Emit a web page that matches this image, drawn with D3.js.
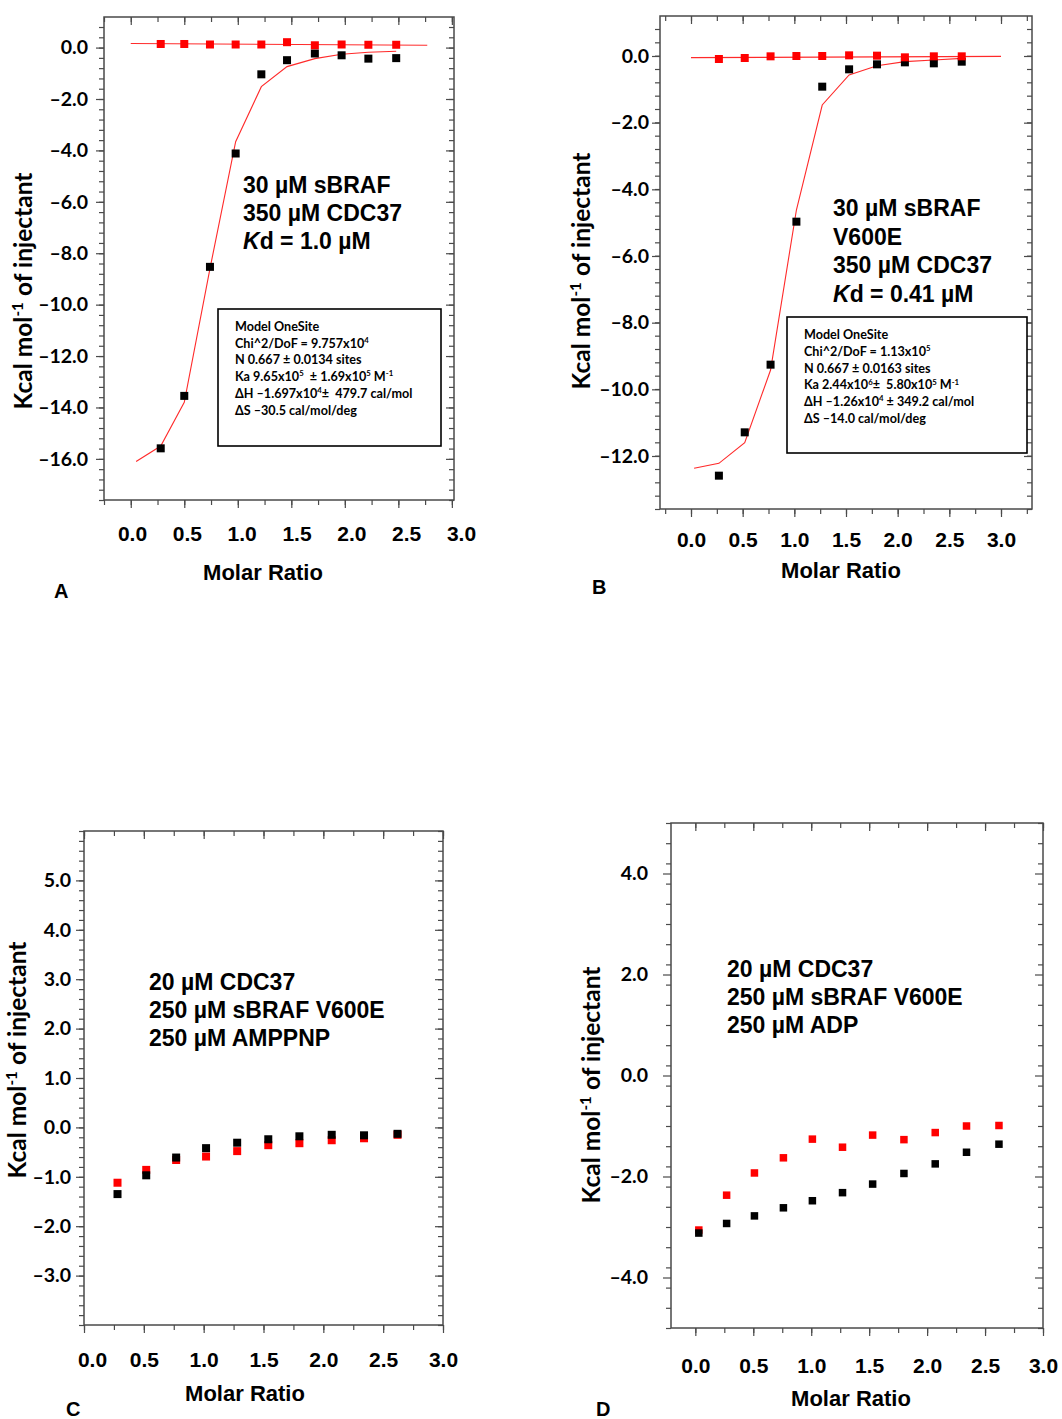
<!DOCTYPE html>
<html><head><meta charset="utf-8">
<script src="https://cdn.jsdelivr.net/npm/d3@7"></script>
<style>
body{margin:0;background:#fff;}
text{white-space:pre;}
</style></head>
<body><svg id="fig" width="1062" height="1419"></svg>
<script>
// ---------- DATA ----------
const xTickLabels = [0, 0.5, 1.0, 1.5, 2.0, 2.5, 3.0];

// Panel A
const aMolar     = [0.28, 0.50, 0.74, 0.98, 1.22, 1.46, 1.72, 1.97, 2.22, 2.48];
const aHeatBlack = [-15.59, -13.55, -8.53, -4.12, -1.04, -0.49, -0.23, -0.30, -0.43, -0.41];
const aHeatRed   = [0.14, 0.14, 0.12, 0.12, 0.12, 0.21, 0.09, 0.12, 0.11, 0.11];
const aFitBlackX = [0.05, 0.28, 0.50, 0.74, 0.98, 1.22, 1.46, 1.72, 1.97, 2.22, 2.48];
const aFitBlackY = [-16.1, -15.5, -13.8, -8.6, -3.66, -1.52, -0.74, -0.43, -0.26, -0.18, -0.14];
const aFitRedX   = [0.0, 2.77];
const aFitRedY   = [0.16, 0.09];
const aYTicks    = [0, -2, -4, -6, -8, -10, -12, -14, -16];

// Panel B
const bMolar     = [0.27, 0.52, 0.77, 1.02, 1.27, 1.53, 1.80, 2.07, 2.35, 2.62];
const bHeatBlack = [-12.59, -11.29, -9.26, -4.97, -0.92, -0.40, -0.25, -0.19, -0.22, -0.17];
const bHeatRed   = [-0.09, -0.06, -0.01, 0.0, 0.0, 0.02, 0.01, -0.04, -0.01, -0.01];
const bFitBlackX = [0.03, 0.27, 0.52, 0.77, 1.02, 1.27, 1.53, 1.80, 2.07, 2.35, 2.62];
const bFitBlackY = [-12.37, -12.22, -11.6, -9.42, -4.62, -1.47, -0.57, -0.29, -0.17, -0.12, -0.07];
const bFitRedX   = [0.0, 3.0];
const bFitRedY   = [-0.05, -0.01];
const bYTicks    = [0, -2, -4, -6, -8, -10, -12];

// Panel C
const cMolar     = [0.28, 0.52, 0.77, 1.02, 1.28, 1.54, 1.80, 2.07, 2.34, 2.62];
const cHeatBlack = [-1.35, -0.97, -0.61, -0.42, -0.31, -0.24, -0.18, -0.15, -0.16, -0.13];
const cHeatRed   = [-1.12, -0.86, -0.66, -0.59, -0.48, -0.36, -0.32, -0.26, -0.22, -0.15];
const cYTicks    = [5, 4, 3, 2, 1, 0, -1, -2, -3];

// Panel D
const dMolar     = [0.03, 0.27, 0.51, 0.76, 1.01, 1.27, 1.53, 1.80, 2.07, 2.34, 2.62];
const dHeatBlack = [-3.12, -2.93, -2.78, -2.62, -2.48, -2.32, -2.15, -1.94, -1.75, -1.52, -1.36];
const dHeatRed   = [-3.06, -2.37, -1.93, -1.63, -1.26, -1.42, -1.18, -1.27, -1.13, -1.00, -0.99];
const dYTicks    = [4, 2, 0, -2, -4];

// Text
const aNote = [[["30 µM sBRAF"]], [["350 µM CDC37"]], [["K","it"],["d = 1.0 µM"]]];
const bNote = [[["30 µM sBRAF"]], [["V600E"]], [["350 µM CDC37"]], [["K","it"],["d = 0.41 µM"]]];
const cNote = [[["20 µM CDC37"]], [["250 µM sBRAF V600E"]], [["250 µM AMPPNP"]]];
const dNote = [[["20 µM CDC37"]], [["250 µM sBRAF V600E"]], [["250 µM ADP"]]];
const aFit = [
  [["Model OneSite"]],
  [["Chi^2/DoF = 9.757x10"],["4","sup"]],
  [["N 0.667 ± 0.0134 sites"]],
  [["Ka 9.65x10"],["5","sup"],["  ± 1.69x10"],["5","sup"],[" M"],["-1","sup"]],
  [["ΔH –1.697x10"],["4","sup"],["±  479.7 cal/mol"]],
  [["ΔS –30.5 cal/mol/deg"]]
];
const bFit = [
  [["Model OneSite"]],
  [["Chi^2/DoF = 1.13x10"],["5","sup"]],
  [["N 0.667 ± 0.0163 sites"]],
  [["Ka 2.44x10"],["6","sup"],["±  5.80x10"],["5","sup"],[" M"],["-1","sup"]],
  [["ΔH –1.26x10"],["4","sup"],[" ± 349.2 cal/mol"]],
  [["ΔS –14.0 cal/mol/deg"]]
];
const yTitle = [["Kcal mol"],["-1","sup"],[" of injectant"]];

// ---------- DRAW ----------
const svg = d3.select("#fig");
const HELV = "'Liberation Sans', Arial, Helvetica, sans-serif";
const CAL = "Lato, 'Open Sans', sans-serif";
const fmtY = v => (v < 0 ? "–" : "") + Math.abs(v).toFixed(1);

function rich(t, segs, fs) {
  let back = 0;
  segs.forEach(s => {
    const sp = t.append("tspan").text(s[0]);
    if (s[1] === "sup") {
      sp.attr("dy", -fs*0.38 + back).attr("font-size", fs*0.62);
      back = fs*0.38;
    } else {
      if (back) sp.attr("dy", back);
      back = 0;
    }
    if (s[1] === "it") sp.attr("font-style", "italic");
  });
}

function range(a, b, step) { const r = []; for (let v = a; v <= b + 1e-9; v += step) r.push(+v.toFixed(4)); return r; }

function panel(p) {
  const g = svg.append("g");
  const x = d3.scaleLinear().domain(p.xd).range([p.L, p.R]);
  const y = d3.scaleLinear().domain(p.yd).range([p.B, p.T]);
  const xMinor = range(-0.25, 3.25, 0.25).filter(v => v >= p.xd[0] - 1e-6 && v <= p.xd[1] + 1e-6);
  const xMajor = xMinor.filter(v => Math.abs(v*2 - Math.round(v*2)) < 1e-6);
  const yMinor = range(p.yd[0], p.yd[1], p.ym).filter(v => v >= p.yd[0] && v <= p.yd[1]);
  const axC = "#4a4a4a";
  const style = s => { s.select(".domain").remove(); s.selectAll("line").attr("stroke", axC).attr("stroke-width", 1.2); };
  // bottom (outside)
  g.append("g").attr("transform", `translate(0,${p.B})`).call(d3.axisBottom(x).tickValues(xMinor).tickSize(5).tickFormat("")).call(style);
  g.append("g").attr("transform", `translate(0,${p.B})`).call(d3.axisBottom(x).tickValues(xMajor).tickSize(8).tickFormat("")).call(style);
  // top (inside)
  g.append("g").attr("transform", `translate(0,${p.T})`).call(d3.axisBottom(x).tickValues(xMinor).tickSize(5).tickFormat("")).call(style);
  g.append("g").attr("transform", `translate(0,${p.T})`).call(d3.axisBottom(x).tickValues(xMajor).tickSize(8).tickFormat("")).call(style);
  // left (outside)
  g.append("g").attr("transform", `translate(${p.L},0)`).call(d3.axisLeft(y).tickValues(yMinor).tickSize(5).tickFormat("")).call(style);
  g.append("g").attr("transform", `translate(${p.L},0)`).call(d3.axisLeft(y).tickValues(p.yt).tickSize(8).tickFormat("")).call(style);
  // right (inside)
  g.append("g").attr("transform", `translate(${p.R},0)`).call(d3.axisRight(y).tickValues(yMinor).tickSize(-5).tickFormat("")).call(style);
  g.append("g").attr("transform", `translate(${p.R},0)`).call(d3.axisRight(y).tickValues(p.yt).tickSize(-8).tickFormat("")).call(style);
  // frame
  g.append("rect").attr("x", p.L).attr("y", p.T).attr("width", p.R - p.L).attr("height", p.B - p.T)
    .attr("fill", "none").attr("stroke", axC).attr("stroke-width", 1.5);
  // y tick labels
  const yl = g.append("g").attr("transform", `translate(${p.L},0)`)
    .call(d3.axisLeft(y).tickValues(p.yt).tickSize(0).tickPadding(p.ylGap).tickFormat(fmtY));
  yl.select(".domain").remove();
  yl.selectAll("text").attr("font-family", CAL).attr("font-weight", 700).attr("font-size", 19.5).attr("fill", "#000");
  // x tick labels
  const xl_scale = p.xlab ? d3.scaleLinear().domain([0, 3]).range(p.xlab) : x;
  const xl = g.append("g").attr("transform", `translate(0,${p.B})`)
    .call(d3.axisBottom(xl_scale).tickValues(xTickLabels).tickSize(0).tickPadding(p.xlGap).tickFormat(d3.format(".1f")));
  xl.select(".domain").remove();
  xl.selectAll("text").attr("font-family", HELV).attr("font-weight", 700).attr("font-size", 21).attr("fill", "#000");
  if (p.firstShift) xl.selectAll("text").filter(d => d === 0).attr("dx", p.firstShift);
  // axis titles
  g.append("text").attr("x", p.xtX).attr("y", p.xtY).attr("text-anchor", "middle")
    .attr("font-family", HELV).attr("font-weight", 700).attr("font-size", 22).text("Molar Ratio");
  const yt = g.append("text").attr("transform", `translate(${p.ytX},${p.ytY}) rotate(-90)`).attr("text-anchor", "middle")
    .attr("font-family", CAL).attr("font-weight", 700).attr("font-size", 24.5);
  rich(yt, yTitle, 24.5);
  // panel letter
  g.append("text").attr("x", p.letX).attr("y", p.letY).attr("font-family", HELV).attr("font-weight", 700)
    .attr("font-size", 20).text(p.letter);
  // fits
  const line = d3.line().x(d => x(d[0])).y(d => y(d[1]));
  (p.fits || []).forEach(f => {
    g.append("path").attr("d", line(d3.zip(f[0], f[1]))).attr("fill", "none").attr("stroke", "#ff2a2a").attr("stroke-width", 1.1);
  });
  // points
  const sq = p.sq;
  const drawPts = (xs, ys, col) => g.append("g").selectAll("rect").data(d3.zip(xs, ys)).join("rect")
    .attr("x", d => x(d[0]) - sq/2).attr("y", d => y(d[1]) - sq/2).attr("width", sq).attr("height", sq).attr("fill", col);
  if (p.redFirst) { drawPts(p.px, p.red, "#ff0000"); drawPts(p.px, p.black, "#000"); }
  else { drawPts(p.px, p.black, "#000"); drawPts(p.px, p.red, "#ff0000"); }
  // note
  p.note.forEach((ln, i) => {
    const t = g.append("text").attr("x", p.noteX).attr("y", p.noteY + i * p.noteDy)
      .attr("font-family", HELV).attr("font-weight", 700).attr("font-size", 23);
    rich(t, ln, 23);
  });
  // fit box
  if (p.box) {
    const b = p.box;
    g.append("rect").attr("x", b.x).attr("y", b.y).attr("width", b.w).attr("height", b.h)
      .attr("fill", "#fff").attr("stroke", "#000").attr("stroke-width", 1.6);
    b.lines.forEach((ln, i) => {
      const t = g.append("text").attr("x", b.x + 17).attr("y", b.y + 22 + i * b.dy)
        .attr("font-family", CAL).attr("font-weight", 700).attr("font-size", 12.6);
      rich(t, ln, 12.6);
    });
  }
}

panel({letter: "A", letX: 54, letY: 598,
  L: 104, R: 454, T: 17, B: 500, xd: [-0.25, 3.02], yd: [-17.6, 1.19], yt: aYTicks, ym: 0.4,
  ylGap: 16, xlGap: 26, xlab: [132, 461], xtX: 263, xtY: 580, ytX: 32, ytY: 291,
  px: aMolar, black: aHeatBlack, red: aHeatRed, sq: 8, redFirst: false,
  fits: [[aFitBlackX, aFitBlackY], [aFitRedX, aFitRedY]],
  note: aNote, noteX: 243, noteY: 193, noteDy: 28,
  box: {x: 218, y: 309, w: 223, h: 137, dy: 16.7, lines: aFit}});

panel({letter: "B", letX: 592, letY: 594,
  L: 660, R: 1032, T: 16, B: 509, xd: [-0.3, 3.3], yd: [-13.59, 1.2], yt: bYTicks, ym: 0.4,
  ylGap: 11, xlGap: 23, xtX: 841, xtY: 578, ytX: 590, ytY: 271,
  px: bMolar, black: bHeatBlack, red: bHeatRed, sq: 8, redFirst: false,
  fits: [[bFitBlackX, bFitBlackY], [bFitRedX, bFitRedY]],
  note: bNote, noteX: 833, noteY: 216, noteDy: 28.5,
  box: {x: 787, y: 317, w: 240, h: 136, dy: 16.8, lines: bFit}});

panel({letter: "C", letX: 66, letY: 1416,
  L: 84, R: 443, T: 831, B: 1325, xd: [0, 3], yd: [-4, 6], yt: cYTicks, ym: 0.2,
  ylGap: 13, xlGap: 27, firstShift: 8, xtX: 245, xtY: 1401, ytX: 26, ytY: 1060,
  px: cMolar, black: cHeatBlack, red: cHeatRed, sq: 8, redFirst: true,
  note: cNote, noteX: 149, noteY: 990, noteDy: 28});

panel({letter: "D", letX: 596, letY: 1416,
  L: 671, R: 1043, T: 823, B: 1328, xd: [-0.21, 3.0], yd: [-5, 5], yt: dYTicks, ym: 0.4,
  ylGap: 23, xlGap: 30, xtX: 851, xtY: 1406, ytX: 600, ytY: 1085,
  px: dMolar, black: dHeatBlack, red: dHeatRed, sq: 7.5, redFirst: true,
  note: dNote, noteX: 727, noteY: 977, noteDy: 28});
</script></body></html>
